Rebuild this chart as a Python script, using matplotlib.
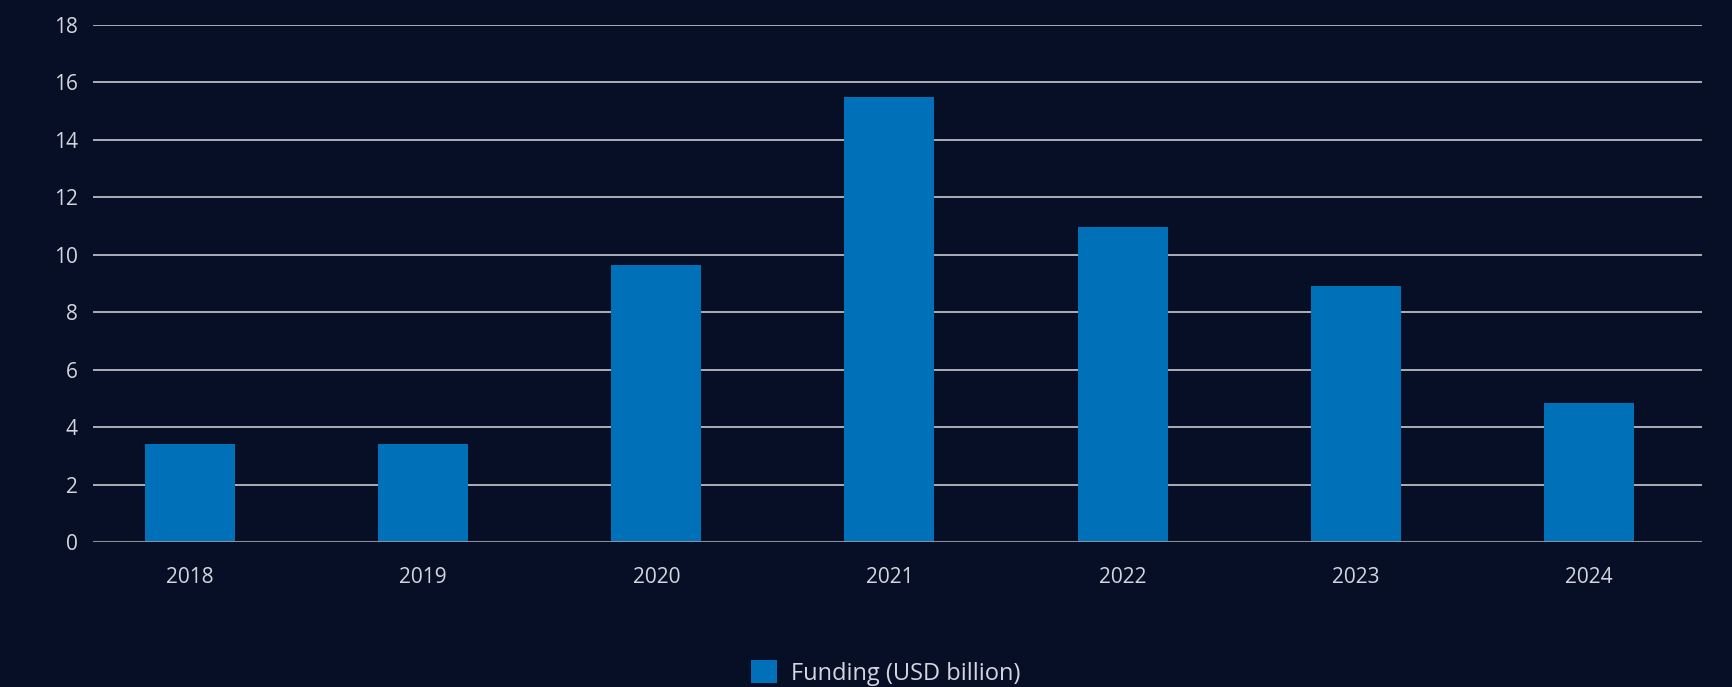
import matplotlib
matplotlib.use("Agg")
import matplotlib.pyplot as plt
import numpy as np

# data
years = ["2018", "2019", "2020", "2021", "2022", "2023", "2024"]
funding = [3.4, 3.4, 9.65, 15.5, 10.95, 8.9, 4.85]
series_label = "Funding (USD billion)"
y_ticks = [0, 2, 4, 6, 8, 10, 12, 14, 16, 18]

bg = "#070f26"
bar_color = "#0070b8"
text_color = "#d4d6de"

plt.rcParams['font.family'] = ['Open Sans', 'DejaVu Sans']

fig = plt.figure(figsize=(17.32, 6.87), dpi=100, facecolor=bg)
ax = fig.add_axes([93 / 1732, 1 - 542 / 687, (1702 - 93) / 1732, (542 - 25) / 687])
ax.set_facecolor(bg)

x = np.arange(len(years))
ax.bar(x, funding, width=0.386, color=bar_color, label=series_label, zorder=3)

ax.set_ylim(0, 18)
ax.set_xlim(-0.416, len(years) - 1 + 0.485)
ax.set_yticks(y_ticks)
ax.set_xticks(x)
ax.set_xticklabels(years)
ax.yaxis.grid(True, color="#d9d9de", linewidth=1.1, zorder=1)
ax.axhline(0, color="#8a8d98", linewidth=1.5, zorder=4)

for s in ax.spines.values():
    s.set_visible(False)
ax.tick_params(axis="both", length=0, colors=text_color, labelsize=15)
ax.tick_params(axis="x", pad=18)
ax.tick_params(axis="y", pad=11)

leg = ax.legend(loc="upper center", bbox_to_anchor=(0.4928, -0.22), frameon=False,
                fontsize=17, handlelength=1.1, handleheight=1.1, handletextpad=0.6,
                borderaxespad=0, borderpad=0.2)
for t in leg.get_texts():
    t.set_color(text_color)

fig.savefig("out.png", dpi=100, facecolor=bg)
